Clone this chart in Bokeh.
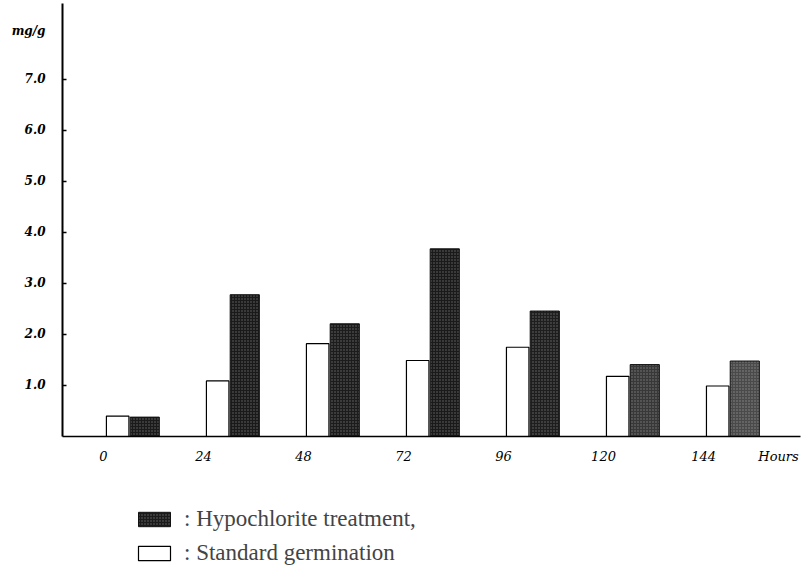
from bokeh.plotting import figure
from bokeh.models import (ColumnDataSource, Range1d, Legend, LegendItem, FixedTicker)
from bokeh.layouts import column
from bokeh.transform import dodge
from bokeh.embed import file_html
from bokeh.resources import INLINE

# ---- data ----
hours = [0, 24, 48, 72, 96, 120, 144]
standard = [0.40, 1.09, 1.82, 1.49, 1.75, 1.18, 0.99]
hypochlorite = [0.38, 2.78, 2.21, 3.68, 2.46, 1.41, 1.48]
hypo_shades = ["#1a1a1a", "#1a1a1a", "#1c1c1c", "#1a1a1a", "#1e1e1e", "#383838", "#4a4a4a"]
x_tick_labels = ["0", "24", "48", "72", "96", "120", "144"]
y_ticks = [1, 2, 3, 4, 5, 6, 7]
y_tick_labels = ["1.0", "2.0", "3.0", "4.0", "5.0", "6.0", "7.0"]
unit_label = "mg/g"
unit_label_pos = 7.96
x_unit_label = "Hours"
hours_label_pos = 162
legend_labels = [": Hypochlorite treatment,", ": Standard germination"]

src = ColumnDataSource(dict(hours=hours, standard=standard,
                            hypochlorite=hypochlorite, shade=hypo_shades))

# ---------------- main chart ----------------
p = figure(width=805, height=470, output_backend="svg", toolbar_location=None,
           x_range=Range1d(-9.84, 167.27), y_range=Range1d(0, 8.49),
           min_border_left=62, min_border_right=5, min_border_top=3,
           min_border_bottom=34)
p.outline_line_color = None
p.grid.visible = False
p.background_fill_color = "white"

std_r = p.vbar(x=dodge("hours", 3.4, range=p.x_range), top="standard", width=5.4,
               bottom=0, source=src, fill_color="white", line_color="black",
               line_width=1.2)
hyp_r = p.vbar(x=dodge("hours", 9.9, range=p.x_range), top="hypochlorite", width=7.0,
               bottom=0, source=src, fill_color="shade", line_color="#111111",
               line_width=1, hatch_pattern="dot", hatch_color="white",
               hatch_scale=3, hatch_weight=1, hatch_alpha=0.35)

xa = p.xaxis[0]
xa.ticker = FixedTicker(ticks=hours + [hours_label_pos])
overrides = {h: t for h, t in zip(hours, x_tick_labels)}
overrides[hours_label_pos] = x_unit_label
xa.major_label_overrides = overrides
xa.major_tick_line_color = None
xa.major_tick_in = 0
xa.major_tick_out = 0
xa.minor_tick_line_color = None
xa.axis_line_color = "black"
xa.axis_line_width = 1.6
xa.major_label_standoff = 12
xa.major_label_text_font = "DejaVu Serif"
xa.major_label_text_font_style = "italic"
xa.major_label_text_font_size = "13px"
xa.major_label_text_color = "black"

ya = p.yaxis[0]
ya.ticker = FixedTicker(ticks=y_ticks + [unit_label_pos], minor_ticks=y_ticks)
yover = {t: s for t, s in zip(y_ticks, y_tick_labels)}
yover[unit_label_pos] = unit_label
ya.major_label_overrides = yover
ya.major_tick_line_color = None
ya.major_tick_in = 0
ya.major_tick_out = 0
ya.minor_tick_line_color = "black"
ya.minor_tick_in = 4
ya.minor_tick_out = 0
ya.minor_tick_line_width = 1.5
ya.axis_line_color = "black"
ya.axis_line_width = 2
ya.major_label_standoff = 17
ya.major_label_text_font = "DejaVu Serif"
ya.major_label_text_font_style = "bold italic"
ya.major_label_text_font_size = "12px"
ya.major_label_text_color = "black"

# ---------------- legend strip ----------------
p2 = figure(width=805, height=96, output_backend="svg", toolbar_location=None,
            x_axis_type=None, y_axis_type=None, min_border=0,
            x_range=Range1d(0, 160), y_range=Range1d(10, 11))
p2.outline_line_color = None
p2.background_fill_color = "white"
# same data, lying below this strip's visible y range: only the legend keys show
key_h = p2.vbar(x="hours", top="hypochlorite", width=1, source=src,
                fill_color="shade", line_color="#111111",
                hatch_pattern="dot", hatch_color="white", hatch_scale=3,
                hatch_weight=1, hatch_alpha=0.35)
key_s = p2.vbar(x="hours", top="standard", width=1, source=src,
                fill_color="white", line_color="black", line_width=1.2)
legend = Legend(items=[LegendItem(label=legend_labels[0], renderers=[key_h], index=0),
                       LegendItem(label=legend_labels[1], renderers=[key_s], index=0)],
                location=(72, 0), orientation="vertical",
                border_line_color=None, background_fill_alpha=0,
                glyph_width=40, glyph_height=18, label_height=18,
                label_text_font="Liberation Serif", label_text_font_size="23px",
                label_standoff=10, spacing=8, padding=0, margin=0)
p2.add_layout(legend)

layout = column(p, p2, spacing=0)
open("out.html", "w").write(file_html(layout, INLINE))
